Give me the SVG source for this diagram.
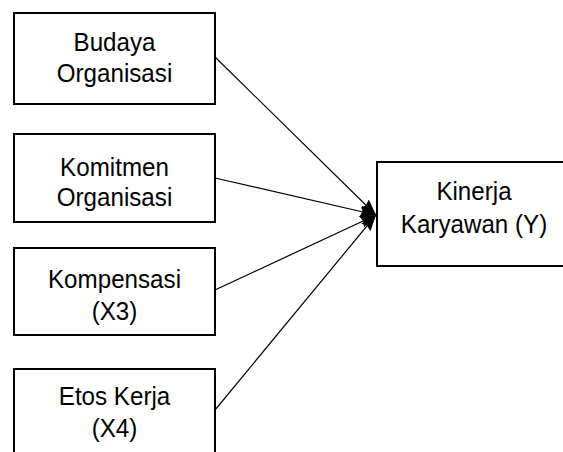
<svg xmlns="http://www.w3.org/2000/svg" width="563" height="452" viewBox="0 0 563 452">
<style>
.box{fill:#fff;stroke:#000;stroke-width:2}
.t{font-family:"Liberation Sans",Arial,sans-serif;font-size:26px;fill:#000;text-anchor:middle}
.c{stroke:#000;stroke-width:1.2;fill:none;marker-end:url(#ah)}
</style>
<defs>
<marker id="ah" viewBox="0 0 16 12" refX="16" refY="6" markerWidth="16" markerHeight="12" markerUnits="userSpaceOnUse" orient="auto">
<path d="M0,0 L16,6 L0,12 L2,6 Z" fill="#000"/>
</marker>
</defs>
<g id="connectors">
<line class="c" x1="215" y1="57" x2="376" y2="215"/>
<line class="c" x1="215" y1="178" x2="376" y2="215"/>
<line class="c" x1="215" y1="290" x2="376" y2="215"/>
<line class="c" x1="215" y1="410" x2="376" y2="215"/>
</g>
<g id="budaya">
<rect class="box" x="14" y="13" width="201" height="91"/>
<text class="t" transform="translate(114.5,51) scale(0.93,1)">Budaya</text>
<text class="t" transform="translate(114.5,82) scale(0.93,1)">Organisasi</text>
</g>
<g id="komitmen">
<rect class="box" x="14" y="134" width="201" height="88"/>
<text class="t" transform="translate(114.5,176) scale(0.93,1)">Komitmen</text>
<text class="t" transform="translate(114.5,206) scale(0.93,1)">Organisasi</text>
</g>
<g id="kompensasi">
<rect class="box" x="14" y="248" width="201" height="87"/>
<text class="t" transform="translate(114.5,288) scale(0.93,1)">Kompensasi</text>
<text class="t" transform="translate(114.5,320) scale(0.93,1)">(X3)</text>
</g>
<g id="etos">
<rect class="box" x="14" y="369" width="201" height="100"/>
<text class="t" transform="translate(114.5,405) scale(0.93,1)">Etos Kerja</text>
<text class="t" transform="translate(114.5,437) scale(0.93,1)">(X4)</text>
</g>
<g id="kinerja">
<rect class="box" x="377" y="162" width="194" height="104"/>
<text class="t" transform="translate(474,200) scale(0.93,1)">Kinerja</text>
<text class="t" transform="translate(474,233) scale(0.93,1)">Karyawan (Y)</text>
</g>
</svg>
